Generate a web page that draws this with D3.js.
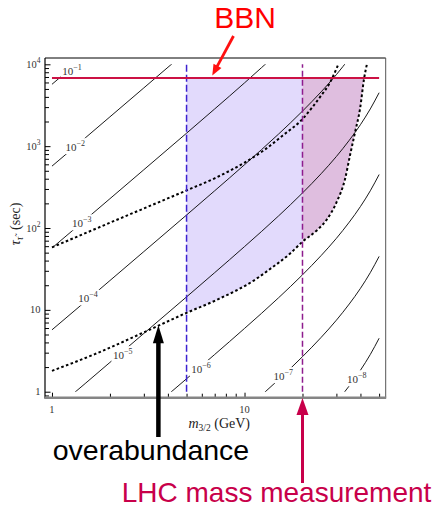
<!DOCTYPE html>
<html>
<head>
<meta charset="utf-8">
<script src="https://cdn.jsdelivr.net/npm/d3@7"></script>
<style>
  body { margin: 0; background: #fff; }
  svg { display: block; }
</style>
</head>
<body>
<svg id="chart" width="446" height="507"></svg>
<script>
// gravitino mass grid (GeV) for the contour lines
const contourMass = [1, 1.5, 2, 3, 5, 7, 10, 15, 20, 25, 30, 35, 40, 45, 50];
// stau lifetime (sec) along each contour, 10^-1 ... 10^-8
const tauE1 = [5700, 12800, 22800];
const tauE2 = [570, 1280, 2280, 5150, 14400];
const tauE3 = [57, 128, 228, 515, 1440, 2850, 5930, 14000];
const tauE4 = [5.7, 12.8, 22.8, 51.5, 144, 285, 593, 1400, 2680, 4610, 7480, 11800];
const tauE5 = [0.57, 1.28, 2.28, 5.15, 14.4, 28.5, 59.3, 140, 268, 461, 748, 1180, 1830, 2850, 4500];
const tauE6 = [0.057, 0.128, 0.228, 0.515, 1.44, 2.85, 5.93, 14.0, 26.8, 46.1, 74.8, 118, 183, 285, 450];
const tauE7 = [0.0057, 0.0128, 0.0228, 0.0515, 0.144, 0.285, 0.593, 1.40, 2.68, 4.61, 7.48, 11.8, 18.3, 28.5, 45.0];
const tauE8 = [0.00057, 0.00128, 0.00228, 0.00515, 0.0144, 0.0285, 0.0593, 0.140, 0.268, 0.461, 0.748, 1.18, 1.83, 2.85, 4.50];
const contourTaus = [tauE1, tauE2, tauE3, tauE4, tauE5, tauE6, tauE7, tauE8];
const contourExp = [1, 2, 3, 4, 5, 6, 7, 8];
const labelMass = [1.27, 1.32, 1.43, 1.54, 2.33, 5.94, 15.9, 38.3];
const labelTau = [8380, 972, 114, 13.8, 2.8, 1.89, 1.55, 1.42];

// dotted boundaries
const lowerMass = [1, 1.67, 3.04, 5, 7, 11.6, 13.3, 17.2, 20, 23.8, 26.7, 30.1, 33.3, 35.3, 37.5, 39.8, 41.8, 43.2];
const lowerTau = [1.8, 2.88, 5.39, 9.2, 12.9, 24.2, 30.5, 48.5, 68, 94, 126, 208, 400, 771, 1480, 2860, 6750, 10000];
const upperMass = [1, 2, 5, 7, 10, 12.6, 15.8, 20.2, 22.4, 24.7, 27.8, 30.7];
const upperTau = [58, 116, 288, 405, 630, 890, 1350, 2200, 2950, 4000, 6000, 10000];

// reference lines
const bbnTau = 6800;
const bbnMass = [1, 50];
const blueMass = 5;
const lhcMass = 20;
const lineTau = [1, 10000];

// axis ticks
const xMajor = [1, 10];
const yMajor = [1, 10, 100, 1000, 10000];
const yTickText = [['1', ''], ['10', ''], ['10', '2'], ['10', '3'], ['10', '4']];

// annotation anchors
const overMass = 3.57, overTau = 6.5;
const bbnArrowMass = 6.8;

const W = 446, H = 507;
const serif = "'Liberation Serif','Times New Roman',serif";
const sans = "'Liberation Sans',Arial,Helvetica,sans-serif";

const svg = d3.select('#chart');
const x = d3.scaleLog().domain([0.92, 54.1]).range([45, 385.7]);
const y = d3.scaleLog().domain([0.845, 11940]).range([397.7, 58]);

const defs = svg.append('defs');
defs.append('clipPath').attr('id', 'plotClip').append('rect')
  .attr('x', x(1) - 1).attr('y', y(1e4))
  .attr('width', x(50) - x(1) + 2).attr('height', y(1) - y(1e4));
defs.append('clipPath').attr('id', 'lavClip').append('rect')
  .attr('x', x(blueMass)).attr('y', y(bbnTau))
  .attr('width', x(lhcMass) - x(blueMass)).attr('height', y(1) - y(bbnTau));
defs.append('clipPath').attr('id', 'pinkClip').append('rect')
  .attr('x', x(lhcMass)).attr('y', y(bbnTau))
  .attr('width', x(50) - x(lhcMass)).attr('height', y(1) - y(bbnTau));

const lowerPts = lowerMass.map((m, i) => [m, lowerTau[i]]);
const upperPts = upperMass.map((m, i) => [m, upperTau[i]]);

const line = d3.line()
  .x(d => x(d[0]))
  .y(d => y(d[1]))
  .curve(d3.curveMonotoneX);

const shade = d3.area()
  .x(d => x(d[0]))
  .y0(d => y(d[1]))
  .y1(y(bbnTau))
  .curve(d3.curveMonotoneX);

// shaded regions
svg.append('path').datum(lowerPts).attr('d', shade)
  .attr('fill', '#e2dafc').attr('clip-path', 'url(#lavClip)');
svg.append('path').datum(lowerPts).attr('d', shade)
  .attr('fill', '#dfbedf').attr('clip-path', 'url(#pinkClip)');

// contour labels (drawn first so the gaps can be measured)
const mask = defs.append('mask').attr('id', 'gaps')
  .attr('maskUnits', 'userSpaceOnUse')
  .attr('x', 0).attr('y', 0).attr('width', W).attr('height', H);
mask.append('rect').attr('width', W).attr('height', H).attr('fill', '#fff');

const labelG = svg.append('g')
  .attr('font-family', serif).attr('font-size', 11).attr('fill', '#333');
contourExp.forEach((k, i) => {
  const t = labelG.append('text')
    .attr('x', x(labelMass[i]))
    .attr('y', y(labelTau[i]) + 4)
    .attr('text-anchor', 'middle');
  t.append('tspan').text('10');
  t.append('tspan').attr('dy', -5).attr('font-size', 8).text('\u2212' + k);
  const b = t.node().getBBox();
  mask.append('rect')
    .attr('x', b.x - 1.5).attr('y', b.y - 1)
    .attr('width', b.width + 3).attr('height', b.height + 2)
    .attr('fill', '#000');
});

// contour lines
const contourG = svg.append('g').attr('clip-path', 'url(#plotClip)')
  .append('g').attr('mask', 'url(#gaps)');
contourTaus.forEach(taus => {
  contourG.append('path')
    .datum(taus.map((t, i) => [contourMass[i], t]))
    .attr('d', line)
    .attr('fill', 'none').attr('stroke', '#000').attr('stroke-width', 0.9);
});

// dotted boundaries
const dotG = svg.append('g').attr('clip-path', 'url(#plotClip)');
[lowerPts, upperPts].forEach(pts => {
  dotG.append('path').datum(pts).attr('d', line)
    .attr('fill', 'none').attr('stroke', '#000')
    .attr('stroke-width', 2).attr('stroke-dasharray', '2.6,2.4');
});

// dashed verticals
svg.append('line')
  .attr('x1', x(blueMass)).attr('x2', x(blueMass))
  .attr('y1', y(lineTau[0])).attr('y2', y(lineTau[1]))
  .attr('stroke', '#3d22d0').attr('stroke-width', 1.5).attr('stroke-dasharray', '7,3');
svg.append('line')
  .attr('x1', x(lhcMass)).attr('x2', x(lhcMass))
  .attr('y1', y(lineTau[0])).attr('y2', y(lineTau[1]))
  .attr('stroke', '#8e1c8e').attr('stroke-width', 1.5).attr('stroke-dasharray', '6,3');

// BBN line
svg.append('line')
  .attr('x1', x(bbnMass[0])).attr('x2', x(bbnMass[1]))
  .attr('y1', y(bbnTau)).attr('y2', y(bbnTau))
  .attr('stroke', '#cc1144').attr('stroke-width', 2);

// ticks
const yMinor = [];
[0.1, 1, 10, 100, 1000].forEach(d => {
  for (let k = 2; k <= 9; k++) {
    const v = d * k;
    if (v >= 0.845 && v <= 11940) yMinor.push(v);
  }
});
const xMinor = [];
[1, 10].forEach(d => {
  for (let k = 2; k <= 9; k++) {
    const v = d * k;
    if (v <= 54.1) xMinor.push(v);
  }
});

function tickAxis(axis, vals, size, transform) {
  const g = svg.append('g').attr('transform', transform)
    .call(axis.tickValues(vals).tickSize(size).tickFormat(''));
  g.select('.domain').remove();
  g.selectAll('line').attr('stroke', '#000').attr('stroke-width', 1);
}
tickAxis(d3.axisLeft(y), yMajor, -5.5, `translate(45,0)`);
tickAxis(d3.axisLeft(y), yMinor, -4, `translate(45,0)`);
tickAxis(d3.axisBottom(x), xMajor, -5, `translate(0,397.7)`);
tickAxis(d3.axisBottom(x), xMinor, -4, `translate(0,397.7)`);

// frame
svg.append('line').attr('x1', 45).attr('x2', 385.7).attr('y1', 58).attr('y2', 58)
  .attr('stroke', '#000').attr('stroke-width', 1);
svg.append('line').attr('x1', 385.7).attr('x2', 385.7).attr('y1', 58).attr('y2', 397.7)
  .attr('stroke', '#555').attr('stroke-width', 1);
svg.append('line').attr('x1', 45).attr('x2', 45).attr('y1', 58).attr('y2', 398.5)
  .attr('stroke', '#000').attr('stroke-width', 1.2);
svg.append('line').attr('x1', 44.5).attr('x2', 386.2).attr('y1', 397.7).attr('y2', 397.7)
  .attr('stroke', '#858585').attr('stroke-width', 2.4);

// tick labels
yMajor.forEach((v, i) => {
  const t = svg.append('text')
    .attr('x', 40.5).attr('y', y(v) + 3.5)
    .attr('text-anchor', 'end')
    .attr('font-family', serif).attr('font-size', 10.5).attr('fill', '#333');
  t.append('tspan').text(yTickText[i][0]);
  if (yTickText[i][1]) {
    t.append('tspan').attr('dy', -5).attr('font-size', 7.5).text(yTickText[i][1]);
  }
});
xMajor.forEach(v => {
  svg.append('text')
    .attr('x', x(v)).attr('y', 412.5)
    .attr('text-anchor', 'middle')
    .attr('font-family', serif).attr('font-size', 10.5).attr('fill', '#333')
    .text(v);
});

// axis titles
const xt = svg.append('text')
  .attr('x', 250).attr('y', 428).attr('text-anchor', 'end')
  .attr('font-family', serif).attr('font-size', 14).attr('fill', '#222');
xt.append('tspan').attr('font-style', 'italic').text('m');
xt.append('tspan').attr('font-size', 9.5).attr('dy', 3).text('3/2');
xt.append('tspan').attr('dy', -3).text('\u00a0(GeV)');

const yt = svg.append('text')
  .attr('transform', 'translate(20,224) rotate(-90)')
  .attr('text-anchor', 'middle')
  .attr('font-family', serif).attr('font-size', 14).attr('fill', '#222');
yt.append('tspan').attr('font-style', 'italic').text('\u03c4');
yt.append('tspan').attr('font-size', 9.5).attr('dy', 3).attr('font-style', 'italic').text('\u03c4\u0303');
yt.append('tspan').attr('dy', -3).text('\u00a0\u00a0(sec)');

// arrows
function arrow(x1, y1, x2, y2, color, width, headLen, headW) {
  const dx = x2 - x1, dy = y2 - y1;
  const len = Math.sqrt(dx * dx + dy * dy);
  const ux = dx / len, uy = dy / len;
  const bx = x2 - ux * headLen, by = y2 - uy * headLen;
  svg.append('line')
    .attr('x1', x1).attr('y1', y1).attr('x2', bx + ux * 1).attr('y2', by + uy * 1)
    .attr('stroke', color).attr('stroke-width', width);
  const px = -uy * headW / 2, py = ux * headW / 2;
  svg.append('polygon')
    .attr('points', [[x2, y2], [bx + px, by + py], [bx - px, by - py]].map(p => p.join(',')).join(' '))
    .attr('fill', color);
}

arrow(233.5, 36, x(bbnArrowMass), y(bbnTau) - 2.5, '#ff1010', 2.8, 11, 9);
arrow(x(overMass), 437, x(overMass), y(overTau), '#000', 4.5, 18, 11);
arrow(x(lhcMass), 483, x(lhcMass), 398, '#c8004a', 3, 17, 12);

// annotation texts
svg.append('text').attr('x', 245).attr('y', 28.3).attr('text-anchor', 'middle')
  .attr('font-family', sans).attr('font-size', 30).attr('fill', '#ff0000')
  .text('BBN');
svg.append('text').attr('x', 52.7).attr('y', 460)
  .attr('font-family', sans).attr('font-size', 28.5).attr('fill', '#000')
  .text('overabundance');
svg.append('text').attr('x', 121.7).attr('y', 502.3)
  .attr('font-family', sans).attr('font-size', 28).attr('fill', '#c8004a')
  .text('LHC mass measurement');
</script>
</body>
</html>
